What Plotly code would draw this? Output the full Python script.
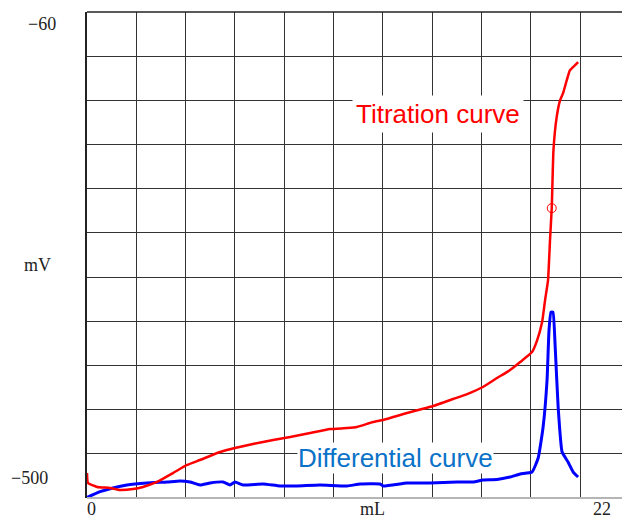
import plotly.graph_objects as go

# Titration curve (mL, mV)
titr_ml = [0.00, 0.04, 0.41, 0.93, 1.34, 1.87, 2.27, 2.84, 3.49, 4.06, 4.58, 5.40, 6.00, 6.73,
           7.55, 8.24, 9.05, 9.86, 10.55, 10.95, 11.60, 12.01, 12.98, 13.59, 14.04, 14.85,
           15.42, 16.06, 16.63, 17.16, 17.57, 18.05, 18.26, 18.46, 18.58, 18.70, 18.78,
           18.85, 18.92, 19.05, 19.19, 19.31, 19.46, 19.59, 19.80, 19.92]
titr_mv = [-477.4, -486.4, -490.0, -490.9, -492.8, -491.9, -490.0, -485.5, -477.4, -470.1,
           -465.6, -458.4, -454.8, -451.1, -447.5, -444.8, -441.2, -437.6, -436.7, -435.7,
           -431.2, -429.4, -423.1, -419.5, -416.7, -410.4, -405.9, -399.5, -391.4, -384.2,
           -376.9, -367.9, -357.0, -340.7, -320.8, -302.7, -266.5, -237.6, -185.1, -155.2,
           -139.8, -133.5, -121.7, -112.7, -108.1, -105.4]

# Differential curve (mL, scaled)
diff_ml = [0.01, 0.53, 1.05, 1.62, 2.43, 3.25, 3.77, 4.18, 4.58, 4.99, 5.52, 5.80, 6.00, 6.33,
           7.14, 7.83, 8.52, 9.45, 10.55, 11.08, 11.89, 12.01, 12.98, 13.91, 15.01, 15.66,
           16.06, 16.63, 17.16, 17.57, 18.05, 18.30, 18.50, 18.66, 18.74, 18.82, 18.90, 18.99,
           19.11, 19.27, 19.51, 19.72, 19.92]
diff_mv = [-499.4, -494.3, -490.9, -488.2, -486.4, -485.5, -484.6, -485.5, -488.2, -486.4,
           -485.5, -488.2, -485.5, -488.2, -487.3, -489.1, -489.1, -488.2, -489.1, -487.3,
           -487.3, -489.1, -486.4, -486.4, -485.5, -485.5, -483.7, -483.3, -481.0, -478.3,
           -476.5, -463.8, -435.7, -393.2, -348.0, -331.7, -331.7, -363.3, -417.6, -458.4,
           -467.4, -476.5, -481.0]

# Endpoint marker
end_ml = [18.85]
end_mv = [-237.6]

y_min, y_max = -500, -60
x_min_label, x_max_label = "0", "22"

fig = go.Figure()
fig.add_trace(go.Scatter(x=diff_ml, y=diff_mv, mode="lines",
                         line=dict(color="#0000ff", width=3, shape="spline", smoothing=0.4),
                         showlegend=False))
fig.add_trace(go.Scatter(x=titr_ml, y=titr_mv, mode="lines",
                         line=dict(color="#ff0000", width=2.5, shape="spline", smoothing=0.4),
                         showlegend=False))
fig.add_trace(go.Scatter(x=end_ml, y=end_mv, mode="markers",
                         marker=dict(symbol="circle-open", size=9, color="#ff0000",
                                     line=dict(width=1)), showlegend=False))

serif = dict(family="Liberation Serif", size=18, color="#222")
sans = "Liberation Sans"


def lab(text, x, y, font, **kw):
    return dict(text=text, x=x, y=y, xref="paper", yref="paper", showarrow=False,
                xanchor="center", yanchor="middle", font=font, **kw)


annotations = [
    lab("−60", -0.0832, 0.9763, serif),
    lab("−500", -0.1075, 0.0412, serif),
    lab("mV", -0.0916, 0.4794, serif),
    lab(x_min_label, 0.0093, -0.0225, serif, borderpad=0),
    lab(x_max_label, 0.9626, -0.0225, serif, borderpad=0),
    lab("mL", 0.5336, -0.0225, serif, borderpad=0),
    lab("Titration curve", 0.657, 0.790, dict(family=sans, size=26, color="#ff0000"),
        bgcolor="white", borderpad=3),
    lab("Differential curve", 0.5766, 0.0823, dict(family=sans, size=26, color="#0a72c8"),
        bgcolor="white", borderpad=0),
]

fig.update_layout(
    width=622, height=520,
    margin=dict(l=87, r=0, t=12, b=22),
    paper_bgcolor="white", plot_bgcolor="white",
    annotations=annotations,
    shapes=[
        dict(type="line", xref="paper", yref="paper", x0=0, x1=1, y0=1, y1=1,
             line=dict(color="#222", width=1.5)),
        dict(type="line", xref="paper", yref="paper", x0=0, x1=1, y0=0, y1=0,
             line=dict(color="#b5b5b5", width=2)),
    ],
)
fig.update_xaxes(range=[0, 21.70], tick0=0, dtick=2, showgrid=True, gridcolor="#333",
                 gridwidth=1, showticklabels=False, ticks="", zeroline=False, showline=False)
fig.update_yaxes(range=[y_min, y_max], tick0=-500, dtick=40, showgrid=True, gridcolor="#333",
                 gridwidth=1, showticklabels=False, ticks="", zeroline=False,
                 showline=True, linecolor="#222", linewidth=1.5)

fig.write_html("out.html", config={"displayModeBar": False},
               post_script="document.body.style.margin='0';")
